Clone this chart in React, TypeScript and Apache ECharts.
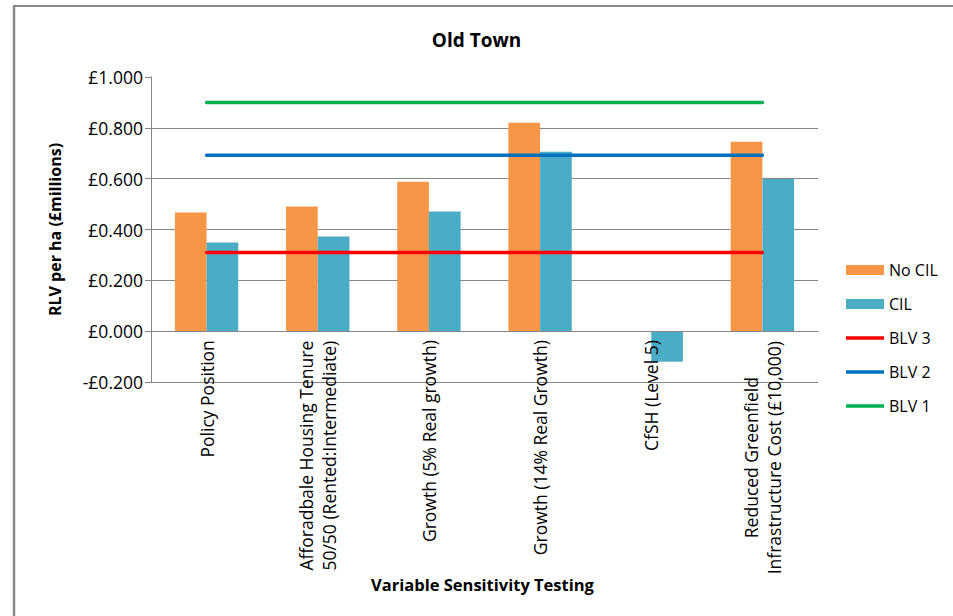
import React, { useEffect, useRef } from "react";
import * as echarts from "echarts";

const categories = [
  "Policy Position",
  "Afforadbale Housing Tenure\n50/50 (Rented:Intermediate)",
  "Growth (5% Real growth)",
  "Growth (14% Real Growth)",
  "CfSH (Level 5)",
  "Reduced Greenfield\nInfrastructure Cost (£10,000)",
];
const noCil: (number | string)[] = [0.467, 0.49, 0.588, 0.82, "-", 0.745];
const cil = [0.349, 0.372, 0.471, 0.706, -0.12, 0.599];
const blv3 = [0.31, 0.31, 0.31, 0.31, 0.31, 0.31];
const blv2 = [0.692, 0.692, 0.692, 0.692, 0.692, 0.692];
const blv1 = [0.9, 0.9, 0.9, 0.9, 0.9, 0.9];
const yMin = -0.2;
const yMax = 1.0;
const yStep = 0.2;

const FONT = '"Open Sans", "Liberation Sans", sans-serif';
const LABEL_SIZE = 17.5;

function measure(text: string, font: string): number {
  const c = document.createElement("canvas");
  const ctx = c.getContext("2d");
  if (!ctx) return text.length * 8;
  ctx.font = font;
  return ctx.measureText(text).width;
}

export default function App() {
  const ref = useRef<HTMLDivElement>(null);
  useEffect(() => {
    document.body.style.margin = "0";
    if (!ref.current) return;
    const chart = echarts.init(ref.current, undefined, { renderer: "svg" });

    const rich: Record<string, any> = {};
    categories.forEach((c, i) => {
      if (c.includes("\n")) {
        const w = Math.max(
          ...c.split("\n").map((l) => measure(l, `${LABEL_SIZE}px "Open Sans"`))
        );
        rich["c" + i] = {
          width: Math.ceil(w) + 1,
          align: "center",
          fontSize: LABEL_SIZE,
          fontFamily: FONT,
          color: "#000",
          lineHeight: 23,
        };
      }
    });

    const grid = "#868686";
    const nTicks = Math.round((yMax - yMin) / yStep) + 1;
    const splitColors = Array.from({ length: nTicks }, (_, i) =>
      i === nTicks - 1 ? "rgba(0,0,0,0)" : grid
    );
    const zeroOffset = -305 * (0 - yMin) / (yMax - yMin);

    const lineSeries = (name: string, data: number[], color: string) => ({
      name,
      type: "line",
      data,
      symbol: "none",
      lineStyle: { color, width: 3.5, cap: "round" },
      itemStyle: { color },
      z: 3,
    });
    const lineIcon = "path://M0,0 L38,0 L38,3.6 L0,3.6 Z";

    chart.setOption({
      animation: false,
      textStyle: { fontFamily: FONT },
      title: {
        text: "Old Town",
        left: "center",
        top: 25,
        textStyle: { fontSize: 19, fontWeight: "bold", color: "#000", fontFamily: FONT },
      },
      grid: { left: 151, right: 135, top: 77, bottom: 234, containLabel: false },
      legend: {
        orient: "vertical",
        left: 841,
        top: 257,
        itemWidth: 38,
        itemHeight: 10,
        itemGap: 18,
        textStyle: { fontSize: 16, color: "#000", fontFamily: FONT, lineHeight: 16 },
        data: [
          { name: "No CIL", icon: "rect" },
          { name: "CIL", icon: "rect" },
          { name: "BLV 3", icon: lineIcon },
          { name: "BLV 2", icon: lineIcon },
          { name: "BLV 1", icon: lineIcon },
        ],
      },
      xAxis: {
        type: "category",
        data: categories,
        offset: zeroOffset,
        z: 10,
        axisLine: { show: true, onZero: false, lineStyle: { color: grid, width: 1 } },
        axisTick: { show: false },
        axisLabel: {
          interval: 0,
          rotate: 90,
          margin: 9,
          fontSize: LABEL_SIZE,
          color: "#000",
          fontFamily: FONT,
          lineHeight: 23,
          rich,
          formatter: (v: string, i: number) =>
            v.includes("\n")
              ? v
                  .split("\n")
                  .map((l) => `{c${i}|${l}}`)
                  .join("\n")
              : v,
        },
      },
      yAxis: {
        type: "value",
        min: yMin,
        max: yMax,
        interval: yStep,
        name: "RLV per ha (£millions)",
        nameLocation: "middle",
        nameGap: 88,
        nameTextStyle: { fontSize: 16, fontWeight: "bold", color: "#000", fontFamily: FONT },
        axisLine: { show: true, lineStyle: { color: grid, width: 1 } },
        axisTick: { show: true, length: 6, lineStyle: { color: grid } },
        axisLabel: {
          fontSize: 17.5,
          color: "#000",
          margin: 8,
          fontFamily: FONT,
          formatter: (v: number) =>
            (v < 0 ? "-£" : "£") + Math.abs(v).toFixed(3),
        },
        splitLine: { show: true, lineStyle: { color: splitColors, width: 1 } },
      },
      series: [
        {
          name: "No CIL",
          type: "bar",
          data: noCil,
          itemStyle: { color: "#F79646" },
          barGap: "0%",
          barCategoryGap: "43%",
          z: 2,
        },
        {
          name: "CIL",
          type: "bar",
          data: cil,
          itemStyle: { color: "#4BACC6" },
          barGap: "0%",
          barCategoryGap: "43%",
          z: 2,
        },
        lineSeries("BLV 3", blv3, "#FF0000"),
        lineSeries("BLV 2", blv2, "#0070C0"),
        lineSeries("BLV 1", blv1, "#00B050"),
      ],
      graphic: [
        {
          type: "text",
          left: 371,
          top: 576,
          style: {
            text: "Variable Sensitivity Testing",
            fontSize: 16.5,
            fontWeight: "bold",
            fill: "#000",
            fontFamily: FONT,
          },
        },
        {
          type: "line",
          shape: { x1: 13, y1: 6, x2: 953, y2: 6 },
          style: { stroke: "#898989", lineWidth: 2 },
        },
        {
          type: "line",
          shape: { x1: 14, y1: 6, x2: 14, y2: 616 },
          style: { stroke: "#898989", lineWidth: 2.5 },
        },
      ],
    });
    return () => chart.dispose();
  }, []);
  return <div ref={ref} style={{ width: 953, height: 616 }} />;
}
